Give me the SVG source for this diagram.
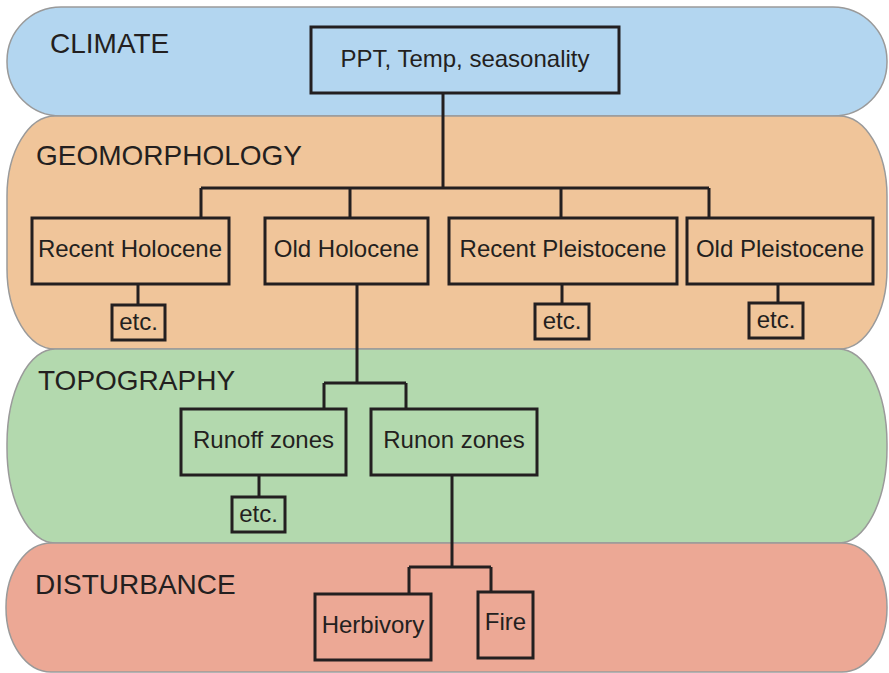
<svg xmlns="http://www.w3.org/2000/svg" width="889" height="673" viewBox="0 0 889 673">
<style>
.band{stroke:#9a9a9a;stroke-width:1.5}
.box{fill:none;stroke:#231f20;stroke-width:3}
.ln{fill:none;stroke:#231f20;stroke-width:3}
.bt{font-family:"Liberation Sans",Arial,sans-serif;font-size:28px;fill:#231f20}
.nt{font-family:"Liberation Sans",Arial,sans-serif;font-size:24px;fill:#231f20;text-anchor:middle}
</style>
<rect width="889" height="673" fill="#ffffff"/>
<g id="bands">
<rect id="band-climate" class="band" x="7" y="7" width="880" height="109" rx="54" ry="54" fill="#b3d6f0"/>
<rect id="band-geomorphology" class="band" x="7" y="116" width="880" height="233" rx="48" ry="80" fill="#f0c59a"/>
<rect id="band-topography" class="band" x="7" y="349" width="880" height="194" rx="48" ry="95" fill="#b3d9ae"/>
<rect id="band-disturbance" class="band" x="6" y="543" width="881" height="129" rx="45" ry="64" fill="#eca895"/>
<text class="bt" x="50" y="53">CLIMATE</text>
<text class="bt" x="36" y="165">GEOMORPHOLOGY</text>
<text class="bt" x="38" y="390">TOPOGRAPHY</text>
<text class="bt" x="35" y="594">DISTURBANCE</text>
</g>
<g id="connectors">
<path class="ln" d="M443,93 V188 M201,188 H709 M201,188 V218 M350,188 V218 M561,188 V218 M709,188 V218"/>
<path class="ln" d="M138,284 V305 M562,284 V304 M778,284 V303"/>
<path class="ln" d="M357,284 V383 M324,383 H406 M324,383 V409 M406,383 V409"/>
<path class="ln" d="M259,475 V497"/>
<path class="ln" d="M452,475 V567 M409,567 H491 M409,567 V594 M491,567 V592"/>
</g>
<g id="node-ppt"><rect class="box" x="311" y="27" width="308" height="66"/><text class="nt" x="465" y="67">PPT, Temp, seasonality</text></g>
<g id="node-recent-holocene"><rect class="box" x="32" y="218" width="197" height="66"/><text class="nt" x="130" y="257">Recent Holocene</text></g>
<g id="node-old-holocene"><rect class="box" x="265" y="218" width="163" height="66"/><text class="nt" x="346.5" y="257">Old Holocene</text></g>
<g id="node-recent-pleistocene"><rect class="box" x="449" y="218" width="228" height="66"/><text class="nt" x="563" y="257">Recent Pleistocene</text></g>
<g id="node-old-pleistocene"><rect class="box" x="687" y="218" width="186" height="66"/><text class="nt" x="780" y="257">Old Pleistocene</text></g>
<g id="node-etc-1"><rect class="box" x="112" y="305" width="53" height="35"/><text class="nt" x="138.5" y="330">etc.</text></g>
<g id="node-etc-2"><rect class="box" x="535" y="304" width="54" height="35"/><text class="nt" x="562" y="329">etc.</text></g>
<g id="node-etc-3"><rect class="box" x="749" y="303" width="54" height="35"/><text class="nt" x="776" y="328">etc.</text></g>
<g id="node-runoff"><rect class="box" x="181" y="409" width="165" height="66"/><text class="nt" x="263.5" y="448">Runoff zones</text></g>
<g id="node-runon"><rect class="box" x="371" y="409" width="166" height="66"/><text class="nt" x="454" y="448">Runon zones</text></g>
<g id="node-etc-4"><rect class="box" x="232" y="497" width="53" height="35"/><text class="nt" x="258.5" y="522">etc.</text></g>
<g id="node-herbivory"><rect class="box" x="315" y="594" width="116" height="66"/><text class="nt" x="373" y="633">Herbivory</text></g>
<g id="node-fire"><rect class="box" x="478" y="592" width="55" height="66"/><text class="nt" x="505.5" y="630">Fire</text></g>
</svg>
